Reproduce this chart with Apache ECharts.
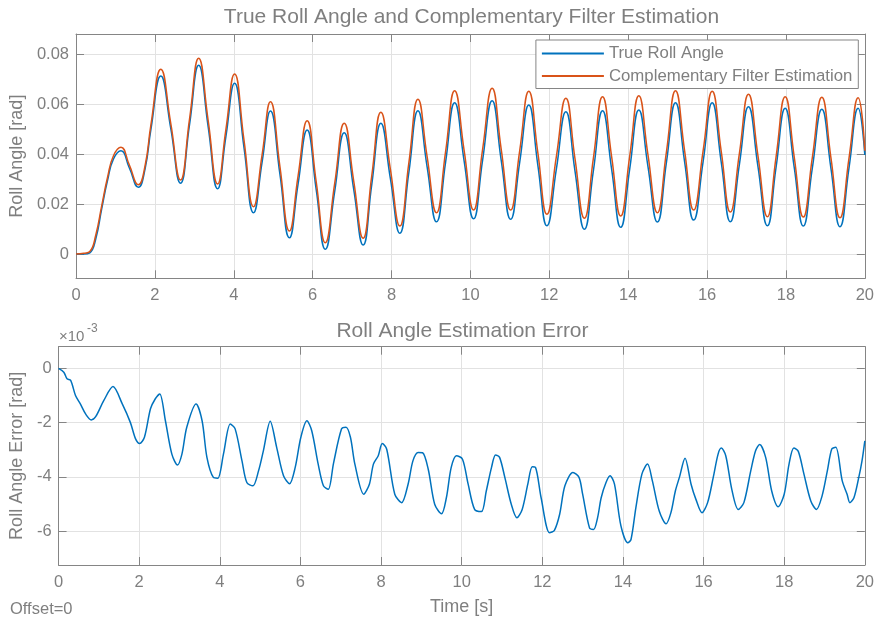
<!DOCTYPE html>
<html lang="en">
<head>
<meta charset="UTF-8">
<title>Roll Angle</title>
<script src="https://cdn.jsdelivr.net/npm/echarts@6/dist/echarts.min.js"></script>
<style>
    * { margin: 0; padding: 0; }
    body { background: #fff; }
    #chart { width: 877px; height: 622px; }
</style>
</head>
<body>
<div id="chart"></div>
<script>
// upper plot: time [s], true roll angle and filter estimate [rad]
var topTime = [0, 0.2, 0.35, 0.5, 0.65, 0.8, 0.95, 1.14, 1.35, 1.58, 1.75, 1.9, 2.15, 2.4, 2.65, 2.88, 3.11, 3.35, 3.59, 3.8,
    4.02, 4.26, 4.5, 4.72, 4.93, 5.17, 5.41, 5.63, 5.86, 6.09, 6.32, 6.56, 6.8, 7.04, 7.28, 7.5, 7.73, 7.97, 8.21, 8.44,
    8.67, 8.9, 9.14, 9.37, 9.6, 9.84, 10.08, 10.31, 10.55, 10.78, 11.02, 11.25, 11.48, 11.71, 11.94, 12.18, 12.42, 12.65, 12.89, 13.12,
    13.35, 13.58, 13.81, 14.04, 14.27, 14.5, 14.74, 14.97, 15.2, 15.43, 15.66, 15.9, 16.13, 16.36, 16.59, 16.82, 17.05, 17.29, 17.53, 17.75,
    17.98, 18.21, 18.44, 18.67, 18.91, 19.14, 19.37, 19.6, 19.83, 20];
var trueRoll = [0, 0, 0.0005, 0.006, 0.018, 0.0295, 0.038, 0.0413, 0.0345, 0.0267, 0.034, 0.05, 0.0712, 0.0505, 0.0283, 0.052, 0.0755, 0.051, 0.0261, 0.047,
    0.0683, 0.0425, 0.0165, 0.037, 0.0572, 0.032, 0.0065, 0.028, 0.0496, 0.0258, 0.0019, 0.0252, 0.0485, 0.026, 0.0036, 0.028, 0.0523, 0.0303, 0.0083, 0.0328,
    0.0573, 0.0351, 0.0129, 0.0367, 0.0605, 0.0373, 0.0141, 0.0377, 0.0613, 0.0376, 0.0139, 0.0368, 0.0596, 0.0355, 0.0113, 0.0341, 0.0569, 0.0334, 0.0099, 0.0336,
    0.0573, 0.034, 0.0107, 0.0342, 0.0576, 0.0352, 0.0128, 0.0367, 0.0605, 0.037, 0.0136, 0.037, 0.0605, 0.0367, 0.0129, 0.0359, 0.0589, 0.0351, 0.0113, 0.0348,
    0.0583, 0.0347, 0.0112, 0.0345, 0.0579, 0.0344, 0.0109, 0.0346, 0.0583, 0.0396];
var filterEst = [0, 0.0003, 0.001, 0.0075, 0.0192, 0.0307, 0.0393, 0.0427, 0.0357, 0.0277, 0.0352, 0.0518, 0.0739, 0.0525, 0.0296, 0.0542, 0.0783, 0.0535, 0.028, 0.0498,
    0.072, 0.0455, 0.0189, 0.0399, 0.0609, 0.035, 0.0092, 0.0312, 0.0533, 0.0289, 0.0045, 0.0284, 0.0523, 0.0293, 0.0063, 0.0315, 0.0567, 0.034, 0.0112, 0.0366,
    0.0619, 0.0392, 0.0165, 0.0409, 0.0653, 0.0415, 0.0176, 0.042, 0.0663, 0.042, 0.0176, 0.0414, 0.0651, 0.0405, 0.0159, 0.0391, 0.0623, 0.0383, 0.0143, 0.0386,
    0.0629, 0.039, 0.0152, 0.0393, 0.0633, 0.0399, 0.0165, 0.0409, 0.0653, 0.0414, 0.0176, 0.0413, 0.0651, 0.041, 0.0168, 0.0403, 0.0639, 0.0394, 0.0149, 0.0389,
    0.0629, 0.0388, 0.0148, 0.0387, 0.0627, 0.0386, 0.0145, 0.0385, 0.0625, 0.0413];

// lower plot: estimation error, in units of 10^-3 rad
var errTime = [0, 0.13, 0.21, 0.3, 0.42, 0.54, 0.67, 0.81, 0.92, 1.12, 1.35, 1.58, 1.78, 1.91, 2.01, 2.13, 2.28, 2.4, 2.51, 2.65,
    2.81, 2.95, 3.06, 3.18, 3.41, 3.56, 3.68, 3.84, 3.95, 4.09, 4.26, 4.38, 4.55, 4.67, 4.82, 4.96, 5.08, 5.25, 5.41, 5.58,
    5.73, 5.87, 6.01, 6.16, 6.28, 6.44, 6.57, 6.69, 6.82, 7.02, 7.13, 7.24, 7.35, 7.57, 7.71, 7.81, 7.93, 8.03, 8.14, 8.34,
    8.51, 8.67, 8.79, 8.92, 9.03, 9.17, 9.33, 9.5, 9.62, 9.74, 9.87, 10.02, 10.16, 10.32, 10.49, 10.61, 10.74, 10.84, 10.94, 11.07,
    11.23, 11.37, 11.5, 11.64, 11.75, 11.83, 11.97, 12.18, 12.3, 12.43, 12.56, 12.76, 12.91, 13, 13.17, 13.27, 13.37, 13.46, 13.58, 13.68,
    13.79, 13.95, 14.12, 14.2, 14.32, 14.47, 14.61, 14.73, 14.9, 15.07, 15.19, 15.3, 15.4, 15.54, 15.69, 15.81, 15.96, 16.1, 16.24, 16.36,
    16.44, 16.55, 16.7, 16.86, 17, 17.17, 17.29, 17.39, 17.54, 17.69, 17.85, 18, 18.12, 18.24, 18.35, 18.49, 18.66, 18.8, 18.94, 19.07,
    19.18, 19.28, 19.44, 19.56, 19.63, 19.73, 19.85, 19.93, 20];
var errValues = [0, -0.14, -0.38, -0.44, -1.0, -1.31, -1.68, -1.9, -1.78, -1.19, -0.67, -1.31, -1.99, -2.6, -2.77, -2.54, -1.49, -1.12, -0.94, -1.93,
    -3.16, -3.56, -3.16, -2.17, -1.31, -1.93, -3.28, -4.02, -4.05, -3.16, -2.05, -2.23, -3.41, -4.21, -4.33, -3.78, -3.04, -1.95, -2.91, -3.96,
    -4.25, -3.65, -2.54, -1.93, -2.3, -3.53, -4.33, -4.46, -3.5, -2.23, -2.17, -2.54, -3.53, -4.64, -4.27, -3.53, -3.22, -2.77, -2.98, -4.64,
    -4.95, -4.27, -3.41, -3.1, -3.11, -3.72, -5.01, -5.36, -4.77, -3.65, -3.22, -3.35, -4.27, -5.2, -5.28, -4.52, -3.65, -3.19, -3.28, -4.02,
    -5.01, -5.51, -5.2, -4.27, -3.63, -3.65, -4.77, -6.06, -5.97, -5.38, -4.33, -3.84, -4.02, -4.64, -5.88, -5.94, -5.51, -4.77, -4.21, -3.96,
    -4.27, -5.81, -6.43, -6.31, -5.14, -3.9, -3.53, -4.15, -5.26, -5.73, -5.32, -4.52, -4.02, -3.31, -4.27, -4.83, -5.32, -4.95, -4.02, -3.16,
    -2.94, -3.22, -4.46, -5.2, -4.95, -3.78, -3.04, -2.81, -3.28, -4.52, -5.1, -4.64, -3.53, -2.94, -3.06, -3.9, -4.89, -5.2, -4.7, -3.78,
    -2.97, -2.91, -4.15, -4.64, -4.95, -4.77, -4.02, -3.41, -2.67];

var seriesNames = ['True Roll Angle', 'Complementary Filter Estimation'];

var textGray = '#7f7f7f';
var boxGray = '#858585';
var gridGray = '#e2e2e2';
var fontFam = '"Liberation Sans", Arial, sans-serif';

function pairs(xs, ys) {
    return xs.map(function (x, i) { return [x, ys[i]]; });
}

// an axis drawn as part of the box: line + inward ticks, no labels
function boxAxis(gridIndex, position, min, max, interval) {
    return {
        type: 'value', gridIndex: gridIndex, position: position,
        min: min, max: max, interval: interval,
        axisLine: { show: true, onZero: false, lineStyle: { color: boxGray, width: 1 } },
        axisTick: { show: true, inside: true, length: 8, lineStyle: { color: boxGray } },
        axisLabel: { show: false },
        splitLine: { show: false }
    };
}

function mainAxis(gridIndex, position, min, max, interval) {
    var ax = boxAxis(gridIndex, position, min, max, interval);
    ax.axisLabel = {
        show: true, color: textGray, fontSize: 16.5, fontFamily: fontFam,
        margin: position === 'left' ? 7 : 9,
        showMinLabel: position !== 'left', showMaxLabel: position !== 'left'
    };
    ax.splitLine = { show: true, lineStyle: { color: gridGray, width: 1 } };
    return ax;
}

var chart = echarts.init(document.getElementById('chart'), null, { renderer: 'canvas' });

var xTop = mainAxis(0, 'bottom', 0, 20, 2);
var xBot = mainAxis(1, 'bottom', 0, 20, 2);
xBot.name = 'Time [s]';
xBot.nameLocation = 'middle';
xBot.nameGap = 33;
xBot.nameTextStyle = { color: textGray, fontSize: 18, fontFamily: fontFam };

var yTop = mainAxis(0, 'left', -0.0097, 0.088);
yTop.name = 'Roll Angle [rad]';
yTop.nameLocation = 'middle';
yTop.nameGap = 46;
yTop.nameTextStyle = { color: textGray, fontSize: 18, fontFamily: fontFam };

var yBot = mainAxis(1, 'left', -7.25, 0.8);
yBot.name = 'Roll Angle Error [rad]';
yBot.nameLocation = 'middle';
yBot.nameGap = 28.5;
yBot.nameTextStyle = { color: textGray, fontSize: 18, fontFamily: fontFam };

var titleStyle = { color: textGray, fontSize: 21, fontWeight: 'normal', fontFamily: fontFam };

chart.setOption({
    animation: false,
    backgroundColor: '#ffffff',
    title: [
        { text: 'True Roll Angle and Complementary Filter Estimation', left: 471.5, top: 7, textAlign: 'center', padding: 0, textStyle: titleStyle },
        { text: 'Roll Angle Estimation Error', left: 462.5, top: 320.5, textAlign: 'center', padding: 0, textStyle: titleStyle }
    ],
    legend: {
        data: seriesNames,
        orient: 'vertical',
        right: 18.7,
        top: 40,
        padding: [5, 6, 4, 6],
        itemGap: 5.5,
        itemWidth: 62,
        itemHeight: 2,
        icon: 'rect',
        backgroundColor: '#ffffff',
        borderColor: boxGray,
        borderWidth: 1,
        textStyle: { color: textGray, fontSize: 16.8, fontFamily: fontFam }
    },
    grid: [
        { left: 75, right: 9, top: 34, bottom: 343.7 },
        { left: 57.3, right: 9, top: 346.7, bottom: 57 }
    ],
    xAxis: [xTop, boxAxis(0, 'top', 0, 20, 2), xBot, boxAxis(1, 'top', 0, 20, 2)],
    yAxis: [yTop, boxAxis(0, 'right', -0.0097, 0.088), yBot, boxAxis(1, 'right', -7.25, 0.8)],
    series: [
        {
            name: seriesNames[0], type: 'line', xAxisIndex: 0, yAxisIndex: 0,
            data: pairs(topTime, trueRoll), smooth: 0.5, symbol: 'none',
            lineStyle: { color: '#0072BD', width: 1.5 }, itemStyle: { color: '#0072BD' }, z: 3
        },
        {
            name: seriesNames[1], type: 'line', xAxisIndex: 0, yAxisIndex: 0,
            data: pairs(topTime, filterEst), smooth: 0.5, symbol: 'none',
            lineStyle: { color: '#D95319', width: 1.5 }, itemStyle: { color: '#D95319' }, z: 3
        },
        {
            name: 'Error', type: 'line', xAxisIndex: 2, yAxisIndex: 2,
            data: pairs(errTime, errValues), smooth: 0.3, symbol: 'none',
            lineStyle: { color: '#0072BD', width: 1.5 }, itemStyle: { color: '#0072BD' }, z: 3
        }
    ],
    graphic: [
        { type: 'text', left: 59, top: 329, style: { text: '\u00d710', fill: textGray, font: '15px ' + fontFam } },
        { type: 'text', left: 87, top: 323, style: { text: '-3', fill: textGray, font: '12px ' + fontFam } },
        { type: 'text', left: 10, top: 601, style: { text: 'Offset=0', fill: textGray, font: '16.5px ' + fontFam } }
    ]
});
</script>
</body>
</html>
